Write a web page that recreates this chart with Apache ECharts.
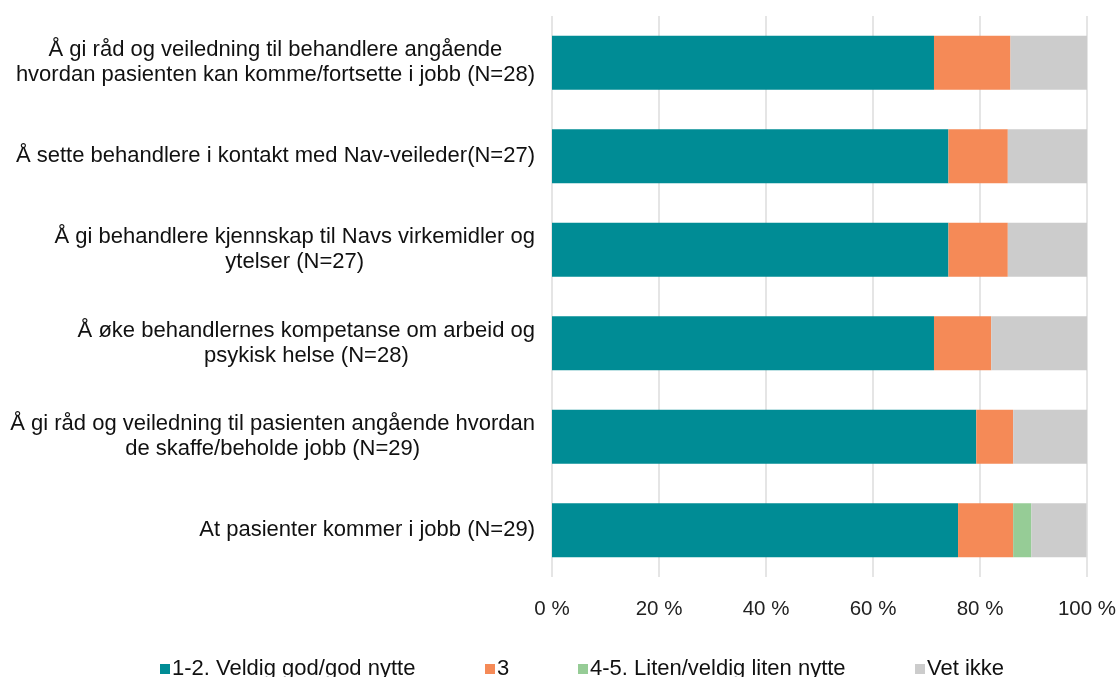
<!DOCTYPE html>
<html>
<head>
<meta charset="utf-8">
<script src="https://cdn.jsdelivr.net/npm/echarts@6/dist/echarts.min.js"></script>
<style>
  html, body { margin: 0; padding: 0; background: #fff; }
  #main { width: 1120px; height: 677px; }
</style>
</head>
<body>
<div id="main"></div>
<script>
// categories, top to bottom as in the picture
const categories = [
  "Å gi råd og veiledning til behandlere angående\nhvordan pasienten kan komme/fortsette i jobb (N=28)",
  "Å sette behandlere i kontakt med Nav-veileder(N=27)",
  "Å gi behandlere kjennskap til Navs virkemidler og\nytelser (N=27)",
  "Å øke behandlernes kompetanse om arbeid og\npsykisk helse (N=28)",
  "Å gi råd og veiledning til pasienten angående hvordan\nde skaffe/beholde jobb (N=29)",
  "At pasienter kommer i jobb (N=29)"
];
const seriesNames = ["1-2. Veldig god/god nytte", "3", "4-5. Liten/veldig liten nytte", "Vet ikke"];
// percent values per category (same order as categories)
const godNytte = [71.4, 74.1, 74.1, 71.4, 79.3, 75.9];
const middels = [14.3, 11.1, 11.1, 10.7, 6.9, 10.3];
const litenNytte = [0, 0, 0, 0, 0, 3.4];
const vetIkke = [14.3, 14.8, 14.8, 17.9, 13.8, 10.3];
const colors = ["#008C95", "#F58A57", "#96CC96", "#CCCCCC"];

const font = "'Liberation Sans', Arial, Helvetica, sans-serif";
const chart = echarts.init(document.getElementById("main"));

const values = [godNytte, middels, litenNytte, vetIkke];
const legendLeft = [155, 480, 573, 910];

chart.setOption({
  animation: false,
  color: colors,
  grid: { left: 552, right: 33, top: 16, bottom: 100 },
  xAxis: {
    type: "value",
    min: 0,
    max: 100,
    interval: 20,
    axisLine: { show: false },
    axisTick: { show: false },
    splitLine: { lineStyle: { color: "#DDDDDD", width: 1.5 } },
    axisLabel: {
      formatter: "{value} %",
      color: "#222",
      fontFamily: font,
      fontSize: 20.5,
      margin: 22
    }
  },
  yAxis: {
    type: "category",
    inverse: true,
    data: categories,
    axisLine: { show: false },
    axisTick: { show: false },
    axisLabel: {
      margin: 17,
      color: "#111",
      fontFamily: font,
      fontSize: 22,
      lineHeight: 25,
      formatter: v => v.split("\n").map(s => "{c|" + s + "}").join("\n"),
      rich: { c: { align: "center", fontFamily: font, fontSize: 22, lineHeight: 25, color: "#111" } }
    }
  },
  legend: seriesNames.map((n, i) => ({
    data: [n],
    left: legendLeft[i],
    top: 653,
    icon: "rect",
    itemWidth: 10,
    itemHeight: 10,
    itemGap: 4,
    textStyle: { fontFamily: font, fontSize: 22, color: "#111", padding: [0, 0, 0, -3] }
  })),
  series: seriesNames.map((n, i) => ({
    name: n,
    type: "bar",
    stack: "total",
    barWidth: 54,
    data: values[i],
    itemStyle: { color: colors[i] }
  }))
});
</script>
</body>
</html>
